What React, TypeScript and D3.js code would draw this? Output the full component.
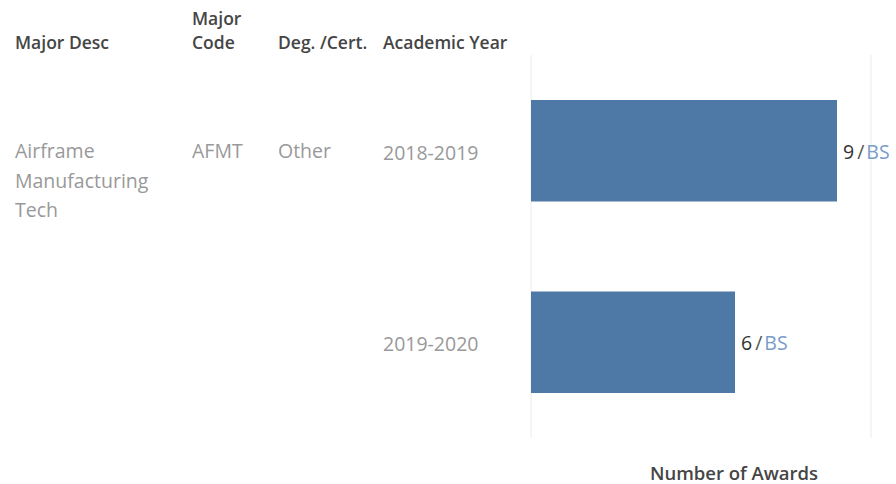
import React from "react";
import * as d3 from "d3";

const years = ["2018-2019", "2019-2020"];
const awards = [9, 6];
const degreeLabels = ["BS", "BS"];
const majorDescLines = ["Airframe", "Manufacturing", "Tech"];
const majorCode = "AFMT";
const degCert = "Other";
const xTicks = [0, 10];

export default function App() {
  const W = 896, H = 484;
  const x = d3.scaleLinear().domain([0, 10]).range([531, 871]);
  const y = d3.scaleBand().domain(years).range([55, 438]).paddingInner(0.47).paddingOuter(0.235);
  const font = "'Open Sans', 'Noto Sans', sans-serif";
  const hdr = "#454545";
  const body = "#999999";
  return (
    <svg width={W} height={H} style={{ position: "absolute", left: 0, top: 0 }} fontFamily={font}>
      <rect width={W} height={H} fill="#fff" />
      {/* headers */}
      <g fontSize={17.5} fill={hdr} fontWeight={600}>
        <text x={15} y={49}>Major Desc</text>
        <text x={192} y={25}>Major</text>
        <text x={192} y={49}>Code</text>
        <text x={278} y={49}>Deg. /Cert.</text>
        <text x={383} y={49}>Academic Year</text>
      </g>
      {/* gridlines */}
      {xTicks.map((t) => (
        <line key={t} x1={x(t)} x2={x(t)} y1={55} y2={438} stroke="#ececec" strokeWidth={1} />
      ))}
      {/* row text */}
      <g fontSize={19.5} fill={body}>
        {majorDescLines.map((l, i) => (
          <text key={l} x={15} y={158 + i * 29.5}>{l}</text>
        ))}
        <text x={192} y={158}>{majorCode}</text>
        <text x={278} y={158}>{degCert}</text>
        {years.map((yr) => (
          <text key={yr} x={383} y={(y(yr) as number) + y.bandwidth() / 2 + 9}>{yr}</text>
        ))}
      </g>
      {/* bars */}
      {years.map((yr, i) => (
        <g key={yr}>
          <rect x={x(0)} y={y(yr)} width={x(awards[i]) - x(0)} height={y.bandwidth()} fill="#4e79a7" />
          <text x={x(awards[i]) + 6} y={(y(yr) as number) + y.bandwidth() / 2 + 8} fontSize={19.5}>
            <tspan fill="#333">{awards[i]}</tspan>
            <tspan fill="#555" dx={3}>/</tspan>
            <tspan fill="#7a9cc8" dx={2}>{degreeLabels[i]}</tspan>
          </text>
        </g>
      ))}
      <text x={734} y={480} textAnchor="middle" fontSize={18.5} fontWeight={600} fill={hdr}>Number of Awards</text>
    </svg>
  );
}
